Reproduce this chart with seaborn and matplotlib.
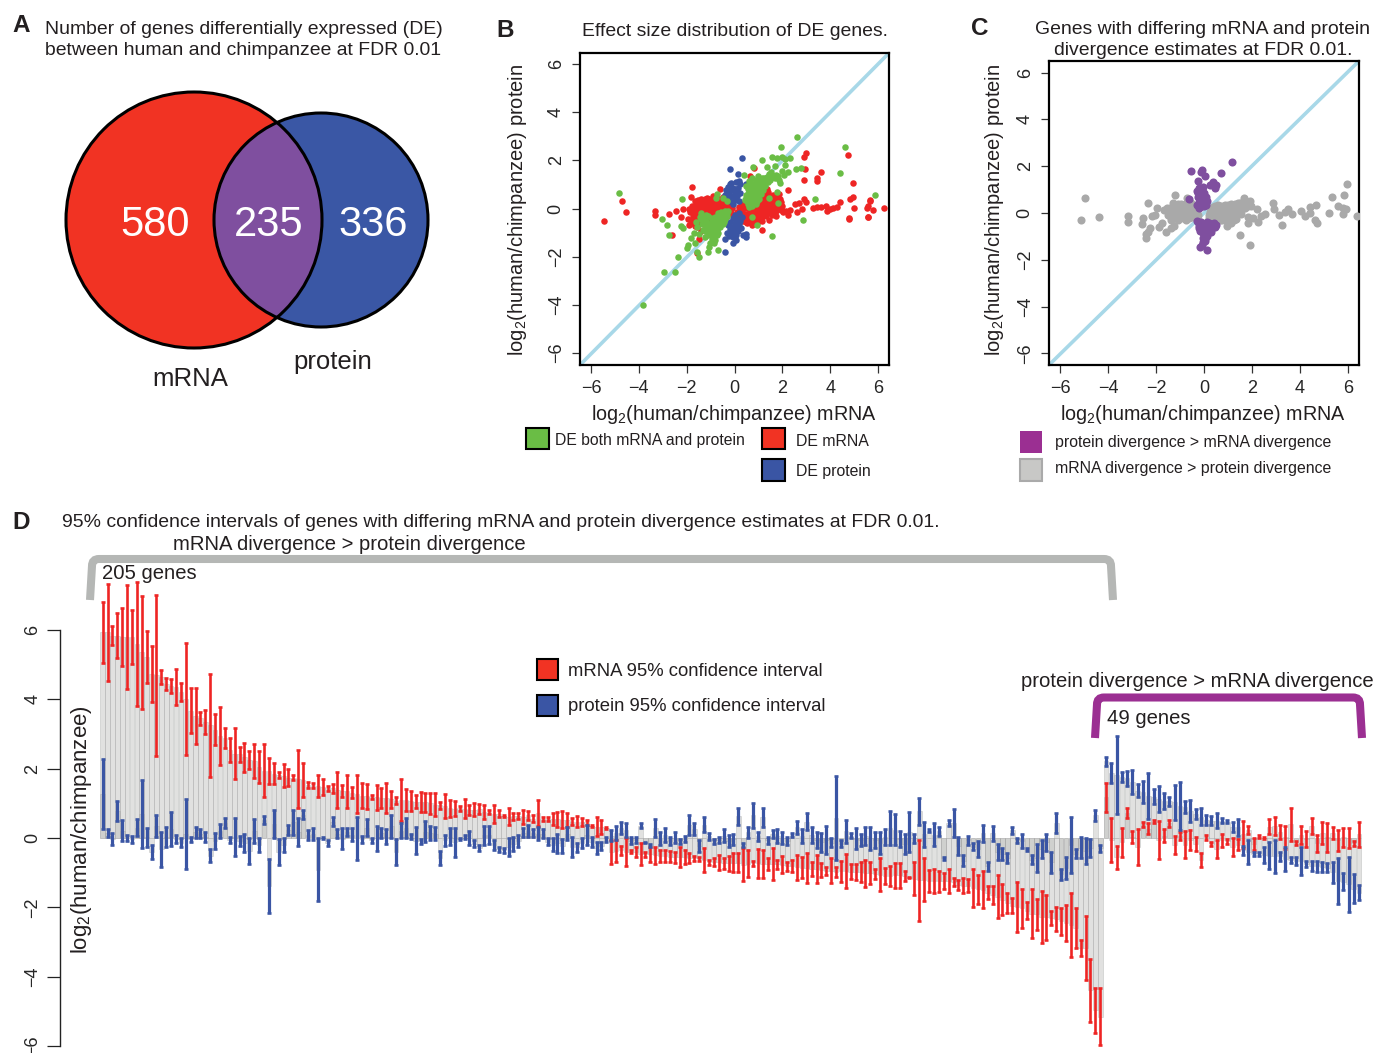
import numpy as np
import seaborn as sns
from matplotlib import pyplot as plt
from matplotlib.patches import Circle, PathPatch, Rectangle
from matplotlib.path import Path

# Panel A counts
venn_counts = ["580", "235", "336"]

# Panel B
red_x = [-5.45, -4.72, -4.55, -3.34, -3.34, -2.75, -2.43, -2.14, -2.24, -1.79, -1.82, -1.58, -0.62, 0.65, 0.81, 3.0, 2.89, 2.96, 2.91, 3.62, 3.44, 3.44, 4.75, 4.94, 2.25, 2.91, 3.0, 2.71, 2.53, 2.32, 2.02, 2.15, 2.25, 1.93, 1.74, 1.46, 1.16, 2.6, 2.81,
         3.28, 3.44, 3.6, 3.83, 3.87, 4.0, 4.13, 4.27, 4.4, 4.83, 4.96, 5.0, 4.8, 4.8, 5.53, 5.6, 5.68, 5.68, 5.79, 6.27, 5.57, 5.57, -2.6, -1.47, -1.58,
         -1.95, -1.85, -1.78, -1.72, -1.66, -1.62, -1.58, -1.55, -1.5, -1.45, -1.42, -1.38, -1.35, -1.3, -1.28, -1.22, -1.18, -1.15, -1.12, -1.08, -1.05, -1.0, -0.98, -0.94, -0.9, -0.88, -0.84, -0.8, -0.78, -0.74, -0.72, -0.68, -0.65, -0.6, -0.58, -0.54, -0.5, -0.47, -0.44, -0.4, -0.38, -0.34, -0.3, -0.27, -0.22, -0.2, -0.16, -0.12, -1.7, -1.25, -0.95, -1.6, -1.1, -0.7, -0.85, -0.5, -0.45, -1.4, -1.9,
         0.12, 0.18, 0.22, 0.28, 0.32, 0.36, 0.4, 0.45, 0.5, 0.54, 0.58, 0.62, 0.66, 0.7, 0.74, 0.78, 0.82, 0.86, 0.9, 0.94, 0.98, 1.02, 1.06, 1.1, 1.14, 1.18, 1.22, 1.26, 1.3, 1.34, 1.38, 1.42, 1.46, 1.5, 1.54, 1.58, 1.62, 1.66, 1.7, 1.74, 1.78, 1.82, 1.86, 1.9, 1.95, 0.4, 0.6, 0.85, 1.0, 1.2, 1.45, 1.3,
         -1.9, -1.75, -1.68, -1.6, -1.52, -1.48, -1.44, -1.4, -1.33, -1.27, -1.24, -1.2, -1.16, -1.14, -1.06, -1.03, -1.02, -0.97, -0.92, -0.9, -0.86, -0.82, -0.76, -0.75, -0.7, -0.66, -0.62, -0.6, -0.55, -0.52, -0.48, -0.43, -0.4, -0.36, -0.33, -0.28, -0.25, -0.18, -1.8, -1.55, -1.32, -1.05, -0.78, -0.55, -1.65,
         0.15, 0.25, 0.3, 0.35, 0.42, 0.48, 0.52, 0.56, 0.6, 0.68, 0.72, 0.76, 0.8, 0.84, 0.88, 0.92, 0.96, 1.0, 1.04, 1.08, 1.12, 1.16, 1.2, 1.24, 1.28, 1.32, 1.36, 1.4, 1.44, 1.48, 1.52, 1.56, 1.6, 1.64, 1.68, 1.72, 1.76, 1.8, 1.84, 1.88, 1.94, 2.0, 0.5, 0.7, 0.95, 1.15, 1.35]
red_y = [-0.52, 0.3, -0.13, -0.1, -0.28, -0.23, -0.1, 0.0, -0.34, 0.91, 0.46, 0.28, 0.81, 1.35, 1.67, 2.32, 2.15, 1.64, 1.18, 1.5, 1.28, 1.16, 2.22, 1.06, 0.78, 0.41, 0.28, 0.21, 0.17, -0.06, -0.13, -0.09, -0.28, 0.05, -0.3, -0.48, -0.91, -0.13, 0.0,
         0.03, 0.05, 0.08, 0.1, -0.1, 0.0, 0.01, 0.05, 0.28, 0.41, 0.46, 0.03, -0.38, -0.44, 0.03, 0.1, 0.35, 0.3, -0.05, 0.02, -0.34, -0.36, -1.1, -1.28, -1.86,
         -0.45, -0.15, 0.12, -0.62, 0.3, -0.28, -0.05, -0.78, 0.18, -0.48, 0.38, -0.92, -0.18, 0.05, -0.66, 0.28, -0.35, 0.45, -0.82, -0.08, 0.15, -0.55, 0.35, -0.22, 0.5, -0.72, 0.05, 0.25, -0.42, -0.12, 0.42, -0.6, 0.12, 0.32, -0.28, -0.02, 0.48, -0.45, 0.18, 0.3, -0.15, 0.06, -0.32, 0.22, -0.05, 0.12, -0.2, 0.02, -0.4, -0.5, -0.3, 0.1, 0.3, 0.1, -0.1, 0.1, -0.1, -0.3, -0.7,
         -0.15, 0.05, -0.35, 0.12, -0.08, -0.52, 0.22, -0.22, 0.02, -0.6, 0.3, -0.38, 0.14, -0.12, -0.68, 0.36, -0.3, 0.08, -0.5, 0.24, -0.05, 0.42, -0.22, -0.42, 0.16, 0.55, -0.1, 0.3, -0.32, 0.05, 0.7, -0.18, 0.44, -0.02, 0.22, -0.25, 0.58, 0.1, 0.34, -0.12, 0.48, 0.02, 0.22, 0.4, -0.05, -0.4, -0.2, -0.1, 0.2, 0.1, 0.15, 0.45,
         0.0, -0.3, -0.1, -0.55, 0.35, -0.2, 0.02, -0.62, 0.2, -0.05, 0.4, -0.25, 0.12, -0.6, 0.38, -0.18, 0.02, 0.2, -0.5, 0.1, 0.38, -0.25, 0.32, -0.05, -0.3, 0.4, -0.08, 0.2, -0.35, 0.25, 0.02, -0.28, 0.4, -0.05, 0.25, 0.08, -0.18, 0.1, -0.5, -0.38, -0.45, -0.42, -0.62, -0.55, -0.72,
         -0.28, -0.1, 0.1, -0.25, -0.45, 0.12, -0.3, 0.18, -0.5, -0.28, 0.25, -0.05, -0.48, 0.22, -0.22, 0.05, -0.35, 0.35, 0.08, -0.12, 0.3, -0.3, 0.42, 0.0, 0.18, -0.18, 0.32, 0.55, 0.05, 0.28, -0.15, 0.45, 0.12, 0.3, -0.05, 0.5, 0.18, 0.3, 0.6, 0.1, 0.25, 0.1, -0.55, -0.55, -0.6, -0.5, 0.82]

blue_x = [0.33, -0.17, 0.16, -0.15, 0.19, 0.5, -0.38, -0.05, 0.06, -0.38, 0.5, 0.5,
          -0.38, -0.35, -0.3, -0.28, -0.25, -0.2, -0.18, -0.15, -0.1, -0.08, -0.05, 0.0, 0.02, 0.05, 0.08, 0.12, 0.15, 0.2, 0.22, 0.25,
          -0.3, -0.28, -0.25, -0.2, -0.18, -0.12, -0.1, -0.08, -0.05, 0.0, 0.02, 0.05, 0.08, 0.12, 0.15, 0.18, 0.2, 0.25, 0.28, 0.32, 0.35, -0.05]
blue_y = [2.1, 1.63, 1.42, 1.05, 1.14, 1.02, -1.27, -1.42, -1.31, -1.82, -1.07, -1.17,
          0.55, 0.75, 0.4, 0.9, 0.6, 0.3, 1.0, 0.75, 0.5, 0.2, 0.85, 0.6, 0.35, 1.1, 0.75, 0.5, 0.85, 0.3, 1.0, 0.65,
          -1.0, -0.7, -1.15, -0.85, -0.55, -1.05, -0.75, -0.4, -0.95, -0.6, -0.25, -1.1, -0.8, -0.45, -0.95, -0.65, -0.2, -0.5, -0.8, -0.35, -1.1, -1.2]

green_x = [-4.82, -3.02, -2.82, -2.74, -2.18, -2.25, -2.14, -1.83, -1.69, -1.93, -1.97, -1.67, -2.36, -2.95, -2.49, -3.83, -1.57, -1.47, -1.12, -0.68, -1.03, -1.05, 1.58, 0.94, 0.72, 2.87, 3.35, 1.83, 5.88, 4.4, 4.62, 2.62, 1.93, 1.57, 1.79, 1.97, 2.13, 2.34, 1.14, 0.76, 1.37, 1.68, 2.1, 2.57, 2.78, 2.25, 1.97, 2.08, 1.83, 1.54, 1.0, 0.41, 1.9, 1.76, 1.43, -0.72, -0.77, -0.5, -0.33,
           0.45, 0.5, 0.55, 0.6, 0.65, 0.7, 0.72, 0.78, 0.8, 0.85, 0.88, 0.92, 0.95, 1.0, 1.03, 1.05, 1.1, 1.12, 1.18, 1.2, 1.25, 1.28, 1.35, 1.4, 1.45, 1.5, 1.6, 1.7, 0.6, 0.75, 0.5, 0.62, 0.75, 0.9, 0.85, 0.7,
           -1.45, -1.35, -1.3, -1.2, -1.18, -1.1, -1.05, -1.0, -0.98, -0.95, -0.9, -0.88, -0.85, -0.8, -0.78, -0.72, -0.7, -0.65, -0.62, -0.6, -0.55, -0.52, -0.48, -0.42, -0.4, -0.35, -0.3, -1.55, -1.6, -1.5, -1.25, -0.8, -0.85, -1.4, -1.1, -0.75,
           0.48, 0.52, 0.58, 0.62, 0.66, 0.68, 0.74, 0.76, 0.82, 0.84, 0.9, 0.92, 0.98, 1.0, 1.02, 1.08, 1.1, 1.15, 1.22, 1.3, 1.38, 1.55, 1.75, 1.85, 1.15, 0.9, 0.55, 0.65,
           -1.38, -1.28, -1.22, -1.15, -1.12, -1.02, -1.0, -0.96, -0.92, -0.9, -0.82, -0.8, -0.76, -0.72, -0.68, -0.66, -0.6, -0.58, -0.5, -0.46, -0.44, -0.38, -0.32, -0.28, -0.95, -0.7, -1.3, -1.2]
green_y = [0.63, -0.44, -0.69, -1.1, 0.41, -0.71, -0.82, -1.22, -1.03, -1.52, -1.65, -1.45, -2.03, -2.65, -2.62, -4.02, -1.79, -2.01, -1.81, -1.74, -1.45, -1.58, -1.14, -0.69, -0.37, -0.49, 0.41, 0.23, 0.57, 1.49, 2.57, 2.96, 2.57, 2.12, 2.09, 2.15, 2.04, 2.1, 2.01, 1.71, 1.71, 1.78, 1.82, 1.63, 1.7, 1.5, 1.54, 1.38, 1.35, 1.53, 1.35, 1.38, 1.07, 0.7, 0.42, 0.6, 0.45, 0.42, 0.33,
           0.35, 0.55, 0.2, 0.75, 0.4, 0.95, 0.55, 0.25, 0.75, 1.05, 0.45, 0.85, 0.6, 1.15, 0.4, 0.8, 0.95, 0.6, 1.1, 0.75, 1.25, 0.95, 1.3, 1.1, 1.45, 1.2, 1.35, 1.25, 1.15, 1.25, 0.95, 0.05, 0.1, 0.2, 0.6, 0.65,
           -0.35, -0.65, -0.9, -0.5, -0.75, -1.1, -0.65, -0.85, -0.4, -1.25, -0.6, -1.0, -0.78, -0.35, -0.55, -0.9, -0.2, -0.6, -0.42, -0.75, -0.15, -0.5, -0.3, -0.58, -0.12, -0.35, -0.2, -0.75, -0.55, -1.05, -1.2, -1.3, -1.42, -0.2, -0.3, -1.1,
           0.45, 0.3, 0.6, 0.9, 0.55, 0.25, 0.85, 0.45, 0.35, 0.95, 0.65, 0.3, 0.75, 0.5, 0.95, 0.65, 1.1, 0.85, 0.95, 1.15, 1.25, 1.3, 1.4, 1.2, 1.25, 1.2, 0.8, 1.05,
           -0.45, -0.55, -0.95, -0.6, -0.9, -0.7, -1.05, -0.55, -0.85, -1.15, -0.5, -0.7, -0.85, -0.45, -0.7, -0.3, -0.5, -0.3, -0.65, -0.42, -0.25, -0.45, -0.3, -0.12, -1.0, -1.0, -0.35, -0.25]

# Panel C
gray_x = [-5.14, -4.97, -4.39, -3.17, -3.18, -2.6, -2.53, -2.33, -1.96, -2.18, -2.04, -2.42, -2.42, -2.25, -2.32, -1.86, -1.76, -1.58, -1.39, -1.24, -1.19, -0.72, -1.28, -1.67, -1.49,
          1.68, 1.92, 1.43, 2.22, 1.5, 1.93, 0.94, 1.13, 1.82, 1.82, 2.06, 2.24, 2.36, 2.54, 2.89, 2.93, 3.13, 3.25, 3.38, 3.51, 3.68, 4.03, 4.21, 4.4, 4.42, 4.68, 4.64, 4.72, 5.22, 5.35, 5.6, 5.82, 5.94, 5.78, 5.9, 5.81, 6.39,
          -1.5, -1.42, -1.36, -1.3, -1.25, -1.2, -1.15, -1.1, -1.05, -1.0, -0.95, -0.92, -0.88, -0.82, -0.78, -0.75, -0.7, -0.66, -0.6, -0.56, -0.52, -0.48, -0.44, -0.38, -0.34, -0.3, -0.26, -0.85, -0.6,
          0.2, 0.25, 0.3, 0.36, 0.42, 0.46, 0.5, 0.56, 0.6, 0.65, 0.7, 0.75, 0.8, 0.85, 0.9, 0.95, 1.0, 1.05, 1.1, 1.15, 1.2, 1.3, 1.35, 1.4, 1.5, 1.55, 1.62, 1.7, 1.75, 1.85,
          -1.45, -1.4, -1.28, -1.22, -1.18, -1.12, -1.08, -1.02, -0.98, -0.94, -0.9, -0.86, -0.84, -0.8, -0.76, -0.72, -0.68, -0.64, -0.62, -0.58, -0.54, -0.5, -0.46, -0.42, -0.36, -0.32, -0.28, -1.35, -1.55,
          0.22, 0.28, 0.34, 0.38, 0.44, 0.48, 0.52, 0.58, 0.62, 0.68, 0.72, 0.78, 0.82, 0.88, 0.92, 0.98, 1.02, 1.08, 1.12, 1.18, 1.25, 1.32, 1.38, 1.45, 1.52, 1.6, 1.65, 1.8, 1.95, 1.25]
gray_y = [-0.31, 0.64, -0.17, -0.13, -0.4, -0.47, -0.23, 0.43, 0.21, -0.13, -0.09, -0.91, -1.05, -0.66, -0.8, -0.58, -0.44, -0.81, -0.66, -0.57, 0.75, 0.63, 0.41, 0.13, 0.09,
          0.66, 0.51, 0.44, 0.17, -0.93, -1.38, -0.56, -0.41, -0.19, -0.44, -0.23, -0.37, -0.13, -0.06, 0.41, 0.19, -0.1, -0.51, 0.06, 0.16, -0.06, 0.1, -0.13, 0.24, -0.01, 0.33, -0.3, -0.41, 0.01, 0.68, 0.28, 0.77, 1.25, 0.2, 0.16, -0.03, -0.14,
          -0.1, 0.2, -0.3, 0.1, -0.15, 0.35, 0.0, -0.28, 0.22, -0.05, 0.4, 0.12, -0.22, 0.28, 0.02, -0.3, 0.45, 0.18, -0.1, 0.3, 0.05, -0.18, 0.2, -0.05, 0.12, -0.2, -0.08, 0.15, 0.15,
          -0.08, 0.05, -0.18, 0.14, -0.05, 0.28, -0.25, 0.1, 0.33, -0.1, 0.16, -0.3, 0.02, 0.28, -0.15, 0.12, 0.36, -0.05, -0.22, 0.22, 0.05, 0.38, -0.1, 0.15, 0.3, -0.05, 0.48, 0.22, 0.42, 0.3,
          0.05, -0.12, 0.25, -0.05, 0.15, -0.15, 0.38, 0.08, -0.18, 0.2, 0.0, 0.35, -0.1, 0.18, 0.4, -0.15, 0.05, 0.3, -0.22, 0.1, 0.42, -0.05, 0.28, -0.1, 0.22, 0.0, 0.08, 0.15, 0.2,
          -0.2, 0.15, -0.08, 0.25, -0.18, 0.08, 0.22, -0.15, 0.1, -0.28, 0.3, -0.1, 0.14, 0.35, -0.28, 0.05, 0.22, -0.12, 0.4, -0.05, 0.18, -0.25, 0.3, 0.02, 0.42, 0.15, 0.3, 0.45, 0.3, -0.3]
purple_x = [1.17, -0.54, -0.07, -0.14, 0.06, 0.72, -0.26, 0.39, 0.25, 0.46, 0.5, -0.64,
            -0.28, -0.25, -0.22, -0.2, -0.15, -0.12, -0.08, -0.05, 0.0, 0.02, 0.08, 0.1, -0.3, -0.2,
            -0.28, -0.22, -0.18, -0.12, -0.08, -0.05, 0.0, 0.05, 0.08, 0.12, 0.18, 0.22, 0.28, 0.35, 0.42, 0.5, 0.12, -0.03, 0.03, -0.17, 0.11,
            -0.25, -0.2, -0.15, -0.1, -0.02, 0.02, 0.1, 0.15, 0.2, 0.25, 0.3, 0.38, 0.45, -0.05, 0.05, -0.1,
            -0.25, -0.18, -0.1, -0.05, 0.05, 0.12, -0.22, -0.1, 0.0]
purple_y = [2.19, 1.78, 1.84, 1.74, 1.58, 1.71, 1.35, 1.32, 1.2, 1.05, 1.2, 0.61,
            0.95, 0.7, 1.05, 0.45, 0.85, 0.3, 0.65, 1.1, 0.5, 0.85, 0.7, 0.35, 0.35, 0.22,
            -0.35, -0.55, -0.75, -0.4, -0.62, -0.85, -0.45, -0.7, -0.95, -0.38, -0.6, -0.8, -0.45, -0.65, -0.42, -0.5, -1.0, -1.25, -1.2, -1.47, -1.57,
            -0.4, -0.65, -0.5, -0.78, -0.55, -0.8, -0.55, -0.75, -0.42, -0.65, -0.8, -0.5, -0.6, -1.05, -1.1, -1.35,
            0.85, 0.6, 0.95, 0.45, 0.6, 0.5, 0.3, 0.3, 0.3]

# Panel D confidence intervals, 205 genes then 49 genes
n_mrna_side = 205
mrna_hi = [6.82, 7.32, 6.11, 6.48, 6.64, 7.30, 6.58, 7.39, 6.99, 5.97, 5.54, 7.01, 4.85, 4.62, 4.59, 4.88, 4.46, 5.63, 4.33, 4.32,
           3.64, 3.68, 4.73, 3.57, 3.78, 3.16, 2.88, 3.17, 2.63, 2.75, 2.50, 2.71, 2.50, 2.70, 2.31, 2.16, 1.89, 2.13, 1.98, 1.82,
           2.54, 2.17, 1.63, 1.60, 1.82, 1.71, 1.50, 1.55, 1.90, 1.52, 1.82, 1.46, 1.82, 1.58, 1.56, 1.24, 1.53, 1.45, 1.58, 1.37,
           1.17, 1.69, 1.41, 1.36, 1.24, 1.34, 1.31, 1.31, 1.29, 1.05, 1.26, 1.10, 1.07, 0.93, 1.12, 0.95, 1.00, 0.97, 0.95, 0.81,
           0.95, 0.81, 0.65, 0.86, 0.73, 0.71, 0.81, 0.78, 0.66, 1.10, 0.62, 0.62, 0.73, 0.74, 0.78, 0.71, 0.57, 0.63, 0.57, 0.52,
           0.38, 0.60, 0.52, 0.31, -0.06, -0.06, -0.23, -0.01, -0.35, -0.27, -0.13, -0.39, -0.27, -0.25, -0.35, -0.35, -0.37, -0.39, -0.27, -0.35,
           -0.44, -0.52, -0.54, -0.30, -0.63, -0.59, -0.49, -0.57, -0.51, -0.44, -0.44, -0.30, -0.35, -0.66, -0.33, -0.35, -0.59, -0.30, -0.63, -0.52,
           -0.68, -0.63, -0.49, -0.56, -0.44, -0.68, -0.49, -0.71, -0.85, -0.59, -0.83, -0.66, -0.47, -0.75, -0.75, -0.70, -0.63, -0.70, -0.90, -0.59,
           -0.86, -0.81, -0.73, -0.73, -0.95, -1.12, -0.70, -0.06, -0.59, -0.92, -0.88, -0.95, -1.00, -0.90, -1.16, -1.21, -1.16, -1.19, -0.88, -1.07,
           -0.95, -1.38, -1.38, -1.07, -1.33, -1.58, -1.74, -1.28, -1.47, -1.84, -1.48, -1.76, -1.53, -1.63, -2.10, -1.98, -2.01, -1.93, -1.58, -2.03,
           -2.94, -2.25, -3.49, -4.32, -4.34,
           1.60, 0.57, -0.22, 0.30, 0.88, 0.21, 0.27, 0.45, 0.42, 0.52, 0.49, 0.26, 0.52, 0.06, 0.18, 0.20, 0.23, 0.04, -0.44, 0.09,
           -0.11, -0.06, 0.11, -0.03, -0.01, -0.03, 0.49, 0.35, -0.01, 0.08, 0.04, 0.54, 0.62, 0.38, 0.35, 0.87, -0.09, 0.35, 0.21, 0.57,
           0.09, 0.47, 0.42, 0.31, 0.23, 0.29, 0.28, -0.08, 0.47]
mrna_lo = [5.04, 4.54, 5.57, 5.18, 4.96, 4.30, 5.01, 3.82, 3.72, 4.46, 3.93, 2.38, 4.44, 4.27, 4.19, 3.85, 3.95, 2.40, 3.02, 2.72,
           3.26, 3.00, 1.77, 2.67, 2.12, 2.61, 2.18, 1.69, 2.20, 1.90, 1.98, 1.72, 1.58, 1.19, 1.56, 1.56, 1.74, 1.46, 1.51, 1.67,
           0.86, 1.19, 1.44, 1.44, 1.17, 1.24, 1.37, 1.31, 0.86, 1.19, 0.88, 1.14, 0.71, 0.86, 0.84, 1.12, 0.81, 0.86, 0.71, 0.86,
           0.98, 0.50, 0.78, 0.79, 0.86, 0.74, 0.74, 0.69, 0.63, 0.83, 0.57, 0.62, 0.63, 0.78, 0.57, 0.66, 0.63, 0.69, 0.54, 0.69,
           0.44, 0.60, 0.60, 0.38, 0.52, 0.54, 0.40, 0.52, 0.45, 0.35, 0.49, 0.48, 0.38, 0.33, 0.28, 0.31, 0.38, 0.31, 0.35, 0.38,
           0.31, 0.06, 0.13, 0.25, -0.75, -0.68, -0.49, -0.80, -0.44, -0.56, -0.78, -0.54, -0.68, -0.75, -0.68, -0.70, -0.70, -0.71, -0.83, -0.75,
           -0.73, -0.66, -0.65, -0.99, -0.78, -0.81, -0.92, -0.88, -0.94, -0.99, -0.99, -1.23, -1.13, -0.81, -1.14, -1.14, -0.92, -1.21, -0.89, -1.02,
           -0.94, -0.99, -1.21, -1.16, -1.31, -1.09, -1.29, -1.13, -1.07, -1.31, -1.13, -1.26, -1.44, -1.19, -1.21, -1.28, -1.40, -1.34, -1.19, -1.52,
           -1.33, -1.38, -1.43, -1.43, -1.23, -1.16, -1.64, -2.38, -1.81, -1.55, -1.60, -1.55, -1.48, -1.60, -1.38, -1.50, -1.60, -1.55, -1.98, -1.90,
           -2.03, -1.77, -1.90, -2.32, -2.22, -2.17, -2.17, -2.70, -2.59, -2.35, -2.89, -2.65, -3.04, -2.94, -2.51, -2.67, -2.80, -2.96, -3.42, -3.16,
           -3.40, -4.10, -5.30, -5.63, -5.97,
           0.76, -0.68, -0.88, -0.54, 0.57, -0.13, -0.78, 0.33, 0.11, 0.42, -0.61, -0.12, 0.33, -0.46, -0.06, -0.59, -0.35, -0.38, -0.85, -0.06,
           -0.23, -0.57, -0.25, -0.17, -0.51, -0.35, -0.28, 0.11, -0.35, -0.01, -0.02, 0.12, 0.09, -0.04, -0.32, -0.08, -0.20, -0.17, -0.25, 0.13,
           -0.39, -0.17, -0.39, -0.03, -0.37, -0.25, -0.28, -0.23, -0.25]
prot_hi = [2.28, 0.25, 0.15, 1.08, 0.52, 0.10, 0.06, 0.54, 1.67, 0.30, -0.20, 0.66, 0.18, 0.33, 0.76, 0.08, -0.01, 1.12, 0.04, 0.33,
           0.25, 0.18, -0.33, 0.15, 0.39, 0.59, 0.04, 0.57, 0.06, 0.12, -0.01, 0.55, -0.01, 0.64, -0.60, 0.81, -0.04, -0.01, 0.38, 0.81,
           0.59, 0.81, 0.23, 0.28, -0.01, 0.04, -0.06, 0.60, 0.25, 0.30, 0.30, 0.28, 0.60, 0.06, 0.54, -0.01, 0.35, 0.28, 0.25, 0.66,
           -0.03, 0.44, 0.57, 0.13, 0.31, -0.02, 0.49, 0.35, 0.31, -0.37, 0.09, 0.28, 0.30, -0.01, 0.09, 0.20, -0.06, -0.20, 0.35, 0.35,
           -0.06, -0.25, -0.28, -0.01, 0.04, 0.09, 0.28, 0.38, 0.25, 0.31, 0.25, -0.01, -0.01, 0.13, -0.04, 0.31, 0.02, -0.13, -0.01, 0.38,
           0.04, -0.11, -0.11, 0.02, 0.23, 0.36, 0.47, 0.42, 0.02, 0.02, 0.44, -0.11, -0.18, 0.55, 0.18, 0.28, 0.02, 0.16, -0.03, 0.07,
           0.66, 0.42, -0.06, 0.60, 0.15, -0.03, 0.04, 0.25, 0.09, 0.13, 0.88, -0.13, 0.31, 1.02, 0.18, 0.88, 0.04, 0.23, 0.26, 0.16,
           0.02, 0.15, 0.50, 0.25, 0.71, 0.33, 0.18, 0.15, 0.35, -0.01, 1.80, -0.06, 0.52, 0.15, 0.28, 0.12, 0.33, 0.33, 0.18, 0.18,
           0.25, 0.79, 0.69, 0.21, 0.11, 0.76, 0.12, 1.16, 0.47, 0.26, 0.42, 0.33, -0.54, 0.52, 0.83, 0.02, -0.49, 0.06, -0.15, -0.09,
           0.38, -0.68, 0.36, -0.17, -0.30, -0.44, 0.31, -0.01, 0.12, -0.30, -0.49, -0.17, -0.06, 0.13, -0.39, 0.73, -0.89, -0.56, 0.62, -0.33,
           0.02, -0.01, -0.03, 0.81, -0.20,
           2.33, 2.15, 2.94, 1.91, 1.94, 1.96, 1.56, 1.64, 1.88, 1.40, 1.50, 1.29, 1.19, 1.53, 1.63, 1.07, 1.10, 0.84, 0.86, 0.66,
           0.63, 0.71, 0.57, 0.52, 0.47, 0.55, -0.23, -0.06, -0.39, -0.39, -0.27, -0.11, -0.06, -0.41, -0.25, -0.54, -0.54, -0.27, -0.65, -0.65,
           -0.65, -0.68, -0.73, -0.68, -0.59, -1.02, -0.56, -1.05, -1.36]
prot_lo = [0.26, 0.04, -0.20, 0.50, -0.09, -0.09, -0.13, 0.06, -0.28, -0.25, -0.61, 0.02, -0.83, -0.27, -0.22, -0.15, -0.27, -0.88, -0.11, -0.01,
           -0.01, -0.11, -0.69, -0.32, 0.01, 0.28, -0.15, -0.52, -0.23, -0.41, -0.75, -0.15, -0.39, 0.39, -2.15, 0.00, -0.78, -0.39, 0.09, 0.09,
           -0.23, 0.54, -0.06, -0.06, -1.81, -0.04, -0.23, 0.35, 0.01, -0.33, 0.06, -0.09, -0.62, -0.13, 0.06, -0.13, -0.37, -0.01, -0.18, 0.01,
           -0.78, -0.01, -0.01, -0.03, -0.46, -0.17, -0.12, -0.06, -0.06, -0.78, -0.22, -0.20, -0.54, -0.06, -0.03, -0.21, -0.27, -0.37, -0.20, -0.17,
           -0.35, -0.39, -0.42, -0.52, -0.37, -0.25, 0.02, 0.04, 0.04, -0.06, -0.01, -0.20, -0.37, -0.42, -0.42, -0.06, -0.56, -0.39, -0.30, -0.20,
           -0.27, -0.46, -0.35, -0.11, -0.09, -0.06, 0.12, 0.04, -0.17, -0.15, 0.28, -0.15, -0.25, 0.04, -0.20, -0.11, -0.20, -0.15, -0.17, -0.11,
           0.09, 0.09, -0.39, 0.16, -0.06, -0.17, -0.15, -0.11, -0.25, -0.20, 0.38, -0.25, 0.01, 0.28, -0.09, 0.31, -0.17, -0.01, -0.15, -0.17,
           -0.20, 0.02, 0.12, -0.15, 0.23, -0.15, -0.30, -0.39, -0.46, -0.25, -0.63, -0.27, -0.13, -0.01, -0.33, -0.23, -0.20, -0.35, -0.30, -0.47,
           -0.20, -0.20, -0.20, -0.27, -0.47, -0.39, -0.13, 0.38, -0.25, 0.16, -0.23, 0.06, -0.63, 0.36, 0.04, -0.49, -0.81, -0.20, -0.35, -0.56,
           -0.11, -0.94, -0.09, -0.62, -0.62, -0.73, 0.13, -0.13, -0.30, -0.37, -0.75, -0.97, -0.59, -0.37, -1.02, 0.15, -1.21, -1.19, -1.00, -0.59,
           -0.59, -0.75, -0.56, 0.50, -0.39,
           2.09, 1.60, 0.68, 1.63, 1.51, 1.26, 1.17, 1.02, 0.55, 0.98, 0.76, 0.84, 0.92, 0.52, 0.23, 0.71, 0.47, 0.54, 0.38, 0.38,
           0.38, 0.30, 0.42, 0.42, 0.18, 0.07, -0.49, -0.75, -0.52, -0.52, -0.71, -0.90, -1.00, -0.65, -0.94, -0.71, -0.78, -1.07, -0.83, -0.94,
           -0.97, -0.97, -0.99, -1.29, -1.90, -1.50, -2.12, -1.88, -1.79]
tick_vals = [-6, -4, -2, 0, 2, 4, 6]
tick_labels = ["\u22126", "\u22124", "\u22122", "0", "2", "4", "6"]

RED = "#ee2524"
BLUE = "#3a55a4"
GREEN = "#6abd45"
PURPLE = "#7f4f9f"
GRAY = "#a9a9a9"
LINE = "#a8d8e8"
W, H = 1375, 1053

sns.set_style("ticks")
plt.rcParams["font.family"] = ["Liberation Sans", "DejaVu Sans"]
plt.rcParams["mathtext.fontset"] = "custom"
plt.rcParams["mathtext.rm"] = "Liberation Sans"
plt.rcParams["mathtext.default"] = "regular"
plt.rcParams["text.color"] = "#231f20"

fig = plt.figure(figsize=(W / 100, H / 100), dpi=100)


def add_box(left, top, right, bottom):
    return fig.add_axes(
        [left / W, 1 - bottom / H, (right - left) / W, (bottom - top) / H]
    )


def style_scatter_axes(ax, lim_y):
    ax.set_xlim(-6.46, 6.46)
    ax.set_ylim(*lim_y)
    ax.set_xticks(tick_vals, tick_labels)
    ax.set_yticks(tick_vals, tick_labels)
    ax.tick_params(length=6, width=0.9, labelsize=13, color="#333333", pad=5)
    plt.setp(ax.get_yticklabels(), rotation=90, va="center")
    for spine in ax.spines.values():
        spine.set_visible(True)
        spine.set_linewidth(1.6)
        spine.set_color("black")


# Panel B
ax_b = add_box(580, 53, 889, 365)
ax_b.plot([-6.46, 6.46], [-6.5, 6.46], color=LINE, lw=2.6, zorder=1)
for xs, ys, col in [(red_x, red_y, RED), (blue_x, blue_y, BLUE), (green_x, green_y, GREEN)]:
    sns.scatterplot(x=xs, y=ys, color=col, s=22, linewidth=0, ax=ax_b, zorder=3)
style_scatter_axes(ax_b, (-6.5, 6.46))

# Panel C
ax_c = add_box(1049, 61, 1359, 365)
ax_c.plot([-6.46, 6.46], [-6.5, 6.5], color=LINE, lw=2.6, zorder=1)
for xs, ys, col in [(gray_x, gray_y, GRAY), (purple_x, purple_y, PURPLE)]:
    sns.scatterplot(x=xs, y=ys, color=col, s=34, linewidth=0, ax=ax_c, zorder=3)
style_scatter_axes(ax_c, (-6.5, 6.5))

# Panel D
ax_d = add_box(60, 560, 1375, 1046)
x_pos = np.concatenate(
    [np.arange(n_mrna_side), 205.2 + 1.078 * np.arange(len(mrna_hi) - n_mrna_side)]
)
mrna_hi_arr, mrna_lo_arr = np.array(mrna_hi), np.array(mrna_lo)
prot_hi_arr, prot_lo_arr = np.array(prot_hi), np.array(prot_lo)
mrna_mid = (mrna_hi_arr + mrna_lo_arr) / 2
prot_mid = (prot_hi_arr + prot_lo_arr) / 2
for mid in (mrna_mid, prot_mid):
    sns.barplot(
        x=x_pos, y=mid, native_scale=True, width=0.95, color="#b8b9b7", alpha=0.42,
        edgecolor="#9c9c9c", linewidth=0.5, saturation=1, errorbar=None, ax=ax_d, zorder=1,
    )
for mid, hi, col, lw in [(mrna_mid, mrna_hi_arr, RED, 1.9), (prot_mid, prot_hi_arr, BLUE, 2.3)]:
    ax_d.errorbar(
        x_pos, mid, yerr=hi - mid, fmt="none", ecolor=col, elinewidth=lw,
        capsize=1.5, capthick=1.9, zorder=4, clip_on=False,
    )
ax_d.set_xlim(-8.73, 260.2)
ax_d.set_ylim(-6, 8.02)
ax_d.set_yticks(tick_vals, tick_labels)
ax_d.set_xticks([])
ax_d.tick_params(axis="y", length=9.4, width=0.9, labelsize=13, color="#222222", pad=4)
plt.setp(ax_d.get_yticklabels(), rotation=90, va="center")
sns.despine(ax=ax_d, bottom=True)
ax_d.spines["left"].set_bounds(-6, 6)
ax_d.spines["left"].set_linewidth(1.0)
ax_d.spines["left"].set_color("#222222")
ax_d.patch.set_alpha(0)

# Overlay in picture pixels for the Venn diagram, legends, brackets and texts
ov = fig.add_axes([0, 0, 1, 1], zorder=10)
ov.set_xlim(0, W)
ov.set_ylim(H, 0)
ov.axis("off")

red_circle = Circle((194, 220), 128, fc="#f13323", ec="none")
blue_circle = Circle((321, 220), 107, fc="#3a57a5", ec="none")
ov.add_patch(red_circle)
ov.add_patch(blue_circle)
overlap = Circle((194, 220), 128, fc=PURPLE, ec="none")
ov.add_patch(overlap)
overlap.set_clip_path(Circle((321, 220), 107, transform=ov.transData))
for center, rad in [((194, 220), 128), ((321, 220), 107)]:
    ov.add_patch(Circle(center, rad, fc="none", ec="black", lw=2.2))
for count, x in zip(venn_counts, [155, 268.5, 373.5]):
    ov.text(x, 224.5, count, color="white", fontsize=30, ha="center", va="center")
ov.text(190, 379, "mRNA", fontsize=18.5, ha="center", va="center")
ov.text(333, 362, "protein", fontsize=18.5, ha="center", va="center")


def swatch(x0, y0, x1, y1, col, edge="black"):
    ov.add_patch(Rectangle((x0, y0), x1 - x0, y1 - y0, fc=col, ec=edge, lw=1.5))


def label(x, y, text, size=14, **kw):
    ov.text(x, y + 1.5, text, fontsize=size, va="center", **kw)


swatch(526, 428, 549, 449, GREEN)
swatch(762, 428, 785, 449, "#f13323")
swatch(762, 459, 785, 481, BLUE)
label(555, 439, "DE both mRNA and protein", 11.35)
label(796, 440, "DE mRNA", 11.4)
label(796, 470, "DE protein", 11.4)
swatch(1020, 431, 1042, 453, "#9b2f92", "none")
swatch(1020, 459, 1042, 481, "#c8c8c6", "#aaaaaa")
label(1055, 441, "protein divergence > mRNA divergence", 11.4)
label(1055, 467, "mRNA divergence > protein divergence", 11.4)
swatch(537, 659, 558, 680, "#f13323")
swatch(537, 695, 558, 716, BLUE)
label(568, 670, "mRNA 95% confidence interval", 13.34)
label(568, 705, "protein 95% confidence interval", 13.34)

for letter, x, y in [("A", 21, 24), ("B", 505, 29), ("C", 980, 27), ("D", 21, 521)]:
    ov.text(x, y + 1.5, letter, fontsize=17.5, fontweight="bold", ha="center", va="center")
label(45, 28, "Number of genes differentially expressed (DE)", 13.95)
label(45, 49, "between human and chimpanzee at FDR 0.01", 13.95)
label(735, 30, "Effect size distribution of DE genes.", 13.95, ha="center")
label(1203, 28, "Genes with differing mRNA and protein", 13.95, ha="center")
label(1203, 49, "divergence estimates at FDR 0.01.", 13.95, ha="center")
label(62, 521, "95% confidence intervals of genes with differing mRNA and protein divergence estimates at FDR 0.01.", 13.97)
label(173, 543, "mRNA divergence > protein divergence", 14.6)
label(102, 572, "205 genes", 14.6)
label(1021, 680, "protein divergence > mRNA divergence", 14.6)
label(1107, 717, "49 genes", 14.6)
log_mrna = r"log$_2$(human/chimpanzee) mRNA"
log_prot = r"log$_2$(human/chimpanzee) protein"
label(734, 413, log_mrna, 14.25, ha="center")
label(1203, 413, log_mrna, 14.25, ha="center")
ov.text(518, 210, log_prot, fontsize=14.5, rotation=90, ha="center", va="center")
ov.text(995, 210, log_prot, fontsize=14.5, rotation=90, ha="center", va="center")
ov.text(82, 830, r"log$_2$(human/chimpanzee)", fontsize=16, rotation=90, ha="center", va="center")


def bracket(x0, x1, y_top, y_end, col, r):
    # legs lean in a little towards the top
    verts = [(x0, y_end), (x0 + 2, y_top + r), (x0 + 2, y_top), (x0 + 2 + r, y_top),
             (x1 - 2 - r, y_top), (x1 - 2, y_top), (x1 - 2, y_top + r), (x1, y_end)]
    codes = [Path.MOVETO, Path.LINETO, Path.CURVE3, Path.CURVE3,
             Path.LINETO, Path.CURVE3, Path.CURVE3, Path.LINETO]
    ov.add_patch(PathPatch(Path(verts, codes), fc="none", ec=col, lw=5.8, capstyle="butt"))


bracket(90, 1113, 559, 600, "#b5b7b5", 7)
bracket(1095, 1362, 697.5, 738, "#9b2f92", 7)

fig.savefig("out.png", dpi=100)
